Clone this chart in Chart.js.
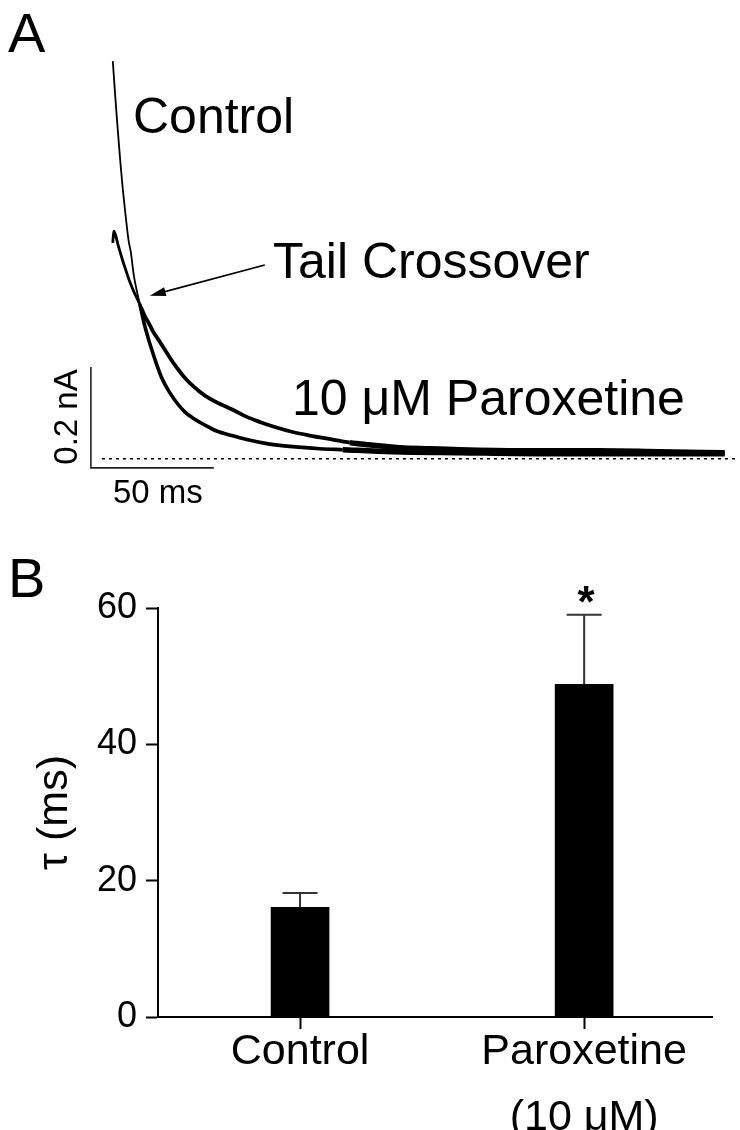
<!DOCTYPE html>
<html><head><meta charset="utf-8">
<script src="https://cdn.jsdelivr.net/npm/chart.js@4.4.1/dist/chart.umd.min.js"></script>
<style>
html,body{margin:0;padding:0;background:#fff;width:740px;height:1130px;overflow:hidden}
#a{position:absolute;left:0;top:0}
#b{position:absolute;left:0;top:540px}
</style></head><body>
<canvas id="a" width="740" height="540"></canvas>
<canvas id="b" width="740" height="590"></canvas>
<script>
const FONT = '"Liberation Sans", Arial, Helvetica, sans-serif';

// ---------- Panel A: tail current traces (time in ms, current in nA) ----------
const controlTime = [0.41,1.22,2.03,2.85,3.66,4.47,5.28,6.10,6.91,7.72,8.94,10.16,11.38,13.01,14.63,16.26,17.89,20.33,23.58,26.42,29.67,32.93,37.80,42.68,48.78,54.88,63.01,73.58,84.55,93.90,114.23,141.46,178.05,218.70,249.19];
const controlCurrent = [0.788,0.731,0.677,0.626,0.578,0.535,0.497,0.461,0.430,0.410,0.364,0.333,0.307,0.271,0.242,0.216,0.192,0.160,0.131,0.111,0.093,0.081,0.067,0.055,0.046,0.038,0.030,0.024,0.020,0.018,0.014,0.012,0.010,0.010,0.010];
const paroxTime = [0.41,0.81,1.63,2.44,3.25,4.47,5.69,6.91,8.13,9.35,10.57,11.79,13.41,15.04,16.67,19.51,22.36,25.61,30.49,35.77,39.84,44.72,49.19,54.88,60.16,66.26,73.58,80.49,89.84,96.75,103.66,117.07,129.27,141.46,165.85,198.37,222.76,249.19];
const paroxCurrent = [0.428,0.451,0.442,0.426,0.412,0.392,0.374,0.356,0.341,0.327,0.315,0.301,0.283,0.269,0.253,0.232,0.210,0.186,0.156,0.133,0.119,0.107,0.097,0.083,0.073,0.063,0.053,0.046,0.038,0.032,0.028,0.022,0.020,0.018,0.016,0.016,0.014,0.012];
const baselineTime = [-4, 255];
const scaleBarOrigin = [-8.5, -0.018];   // [ms, nA]
const scaleBarMs = 50;
const scaleBarNA = 0.2;
const arrowFrom = [62.2, 0.384];
const arrowTo = [15.45, 0.323];

// ---------- Panel B: tau bar chart ----------
const categories = ['Control', ['Paroxetine', '(10 \u03BCM)']];
const categoryX = [1, 3];
const tauMean = [16.1, 48.8];
const tauSEM = [2.1, 10.2];
const significance = ['', '*'];
const yTicks = [0, 20, 40, 60];

const pts = (xs, ys) => xs.map((x, i) => ({x: x, y: ys[i]}));

const annotA = {
  id: 'annotA',
  afterDraw(chart) {
    const ctx = chart.ctx, xs = chart.scales.x, ys = chart.scales.y;
    ctx.save();
    ctx.fillStyle = '#000';
    ctx.textAlign = 'left';
    ctx.textBaseline = 'alphabetic';
    ctx.font = '56px ' + FONT;
    ctx.fillText('A', 8, 52);
    ctx.font = '50px ' + FONT;
    ctx.fillText('Control', 133, 133);
    ctx.fillText('Tail Crossover', 273, 278);
    ctx.fillText('10 \u03BCM Paroxetine', 292, 415);
    ctx.font = '33px ' + FONT;
    ctx.fillText('50 ms', 113, 503);
    ctx.save();
    ctx.translate(77, 417);
    ctx.rotate(-Math.PI / 2);
    ctx.textAlign = 'center';
    ctx.fillText('0.2 nA', 0, 0);
    ctx.restore();
    // arrow
    const x1 = xs.getPixelForValue(arrowFrom[0]), y1 = ys.getPixelForValue(arrowFrom[1]);
    const x2 = xs.getPixelForValue(arrowTo[0]), y2 = ys.getPixelForValue(arrowTo[1]);
    const ang = Math.atan2(y2 - y1, x2 - x1);
    const hl = 16, hw = 4.5;
    ctx.strokeStyle = '#000';
    ctx.lineWidth = 1.8;
    ctx.beginPath();
    ctx.moveTo(x1, y1);
    ctx.lineTo(x2 - Math.cos(ang) * hl * 0.8, y2 - Math.sin(ang) * hl * 0.8);
    ctx.stroke();
    ctx.beginPath();
    ctx.moveTo(x2, y2);
    ctx.lineTo(x2 - Math.cos(ang) * hl - Math.sin(ang) * hw, y2 - Math.sin(ang) * hl + Math.cos(ang) * hw);
    ctx.lineTo(x2 - Math.cos(ang) * hl + Math.sin(ang) * hw, y2 - Math.sin(ang) * hl - Math.cos(ang) * hw);
    ctx.closePath();
    ctx.fill();
    ctx.restore();
  }
};

new Chart(document.getElementById('a'), {
  type: 'line',
  data: {
    datasets: [
      {data: pts(controlTime, controlCurrent), borderColor: '#000', borderWidth: 2, pointRadius: 0,
       cubicInterpolationMode: 'monotone',
       segment: {borderWidth: c => c.p0.parsed.x < 11 ? 1.8 : (c.p0.parsed.x < 90 ? 3.6 : 5.5)}},
      {data: pts(paroxTime, paroxCurrent), borderColor: '#000', borderWidth: 3, pointRadius: 0,
       cubicInterpolationMode: 'monotone',
       segment: {borderWidth: c => c.p0.parsed.x < 11 ? 2.8 : (c.p0.parsed.x < 90 ? 3.8 : 5.5)}},
      {data: baselineTime.map(t => ({x: t, y: 0})), borderColor: '#000', borderWidth: 1.5,
       borderDash: [3, 4], pointRadius: 0},
      {data: [
         {x: scaleBarOrigin[0], y: scaleBarOrigin[1] + scaleBarNA},
         {x: scaleBarOrigin[0], y: scaleBarOrigin[1]},
         {x: scaleBarOrigin[0] + scaleBarMs, y: scaleBarOrigin[1]}],
       borderColor: '#222', borderWidth: 1.6, pointRadius: 0, tension: 0}
    ]
  },
  options: {
    responsive: false, animation: false, devicePixelRatio: 1,
    layout: {padding: {left: 38, right: 1, top: 45, bottom: 56}},
    plugins: {legend: {display: false}, tooltip: {enabled: false}},
    scales: {
      x: {type: 'linear', min: -30, max: 255, display: false},
      y: {type: 'linear', min: -0.05, max: 0.82, display: false}
    }
  },
  plugins: [annotA]
});

const annotB = {
  id: 'annotB',
  afterDatasetsDraw(chart) {
    const ctx = chart.ctx, xs = chart.scales.x, ys = chart.scales.y;
    ctx.save();
    categoryX.forEach((cx, i) => {
      const px = xs.getPixelForValue(cx);
      const y0 = ys.getPixelForValue(tauMean[i]);
      const y1 = ys.getPixelForValue(tauMean[i] + tauSEM[i]);
      ctx.strokeStyle = '#333';
      ctx.lineWidth = 2;
      ctx.beginPath();
      ctx.moveTo(px, y0); ctx.lineTo(px, y1);
      ctx.moveTo(px - 17.5, y1); ctx.lineTo(px + 17.5, y1);
      ctx.stroke();
      if (significance[i]) {
        ctx.fillStyle = '#000';
        ctx.font = 'bold 44px ' + FONT;
        ctx.textAlign = 'center';
        ctx.textBaseline = 'alphabetic';
        ctx.fillText(significance[i], px + 2, y1 + 2);
      }
    });
    ctx.fillStyle = '#000';
    ctx.font = '56px ' + FONT;
    ctx.textAlign = 'left';
    ctx.textBaseline = 'alphabetic';
    ctx.fillText('B', 8, 57);
    ctx.restore();
  }
};

new Chart(document.getElementById('b'), {
  type: 'bar',
  data: {
    datasets: [{
      data: pts(categoryX, tauMean),
      backgroundColor: '#000', borderWidth: 0, barThickness: 58
    }]
  },
  options: {
    responsive: false, animation: false, devicePixelRatio: 1,
    layout: {padding: {left: 0, right: 28, top: 68, bottom: 0}},
    plugins: {legend: {display: false}, tooltip: {enabled: false}},
    scales: {
      x: {
        type: 'linear', min: 0, max: 3.9, offset: false,
        afterBuildTicks: s => { s.ticks = categoryX.map(v => ({value: v})); },
        afterFit: s => { s.height = 113; },
        grid: {offset: false, drawOnChartArea: false, drawTicks: true, tickLength: 12, tickWidth: 2, tickColor: '#000'},
        border: {display: true, color: '#000', width: 2},
        ticks: {
          color: '#000', padding: -10, maxRotation: 0, autoSkip: false,
          font: {family: FONT, size: 43, lineHeight: 1.53},
          callback: (v, i) => categories[i]
        }
      },
      y: {
        type: 'linear', min: 0, max: 60,
        afterBuildTicks: s => { s.ticks = yTicks.map(v => ({value: v})); },
        afterFit: s => { s.width = 158; },
        grid: {drawOnChartArea: false, drawTicks: true, tickLength: 12, tickWidth: 2, tickColor: '#000'},
        border: {display: true, color: '#000', width: 2},
        ticks: {color: '#000', padding: 9, font: {family: FONT, size: 36}},
        title: {display: true, text: '\u03C4 (ms)', color: '#000',
                font: {family: FONT, size: 43}, padding: {top: 29, bottom: 0}}
      }
    }
  },
  plugins: [annotB]
});
</script>
</body></html>
